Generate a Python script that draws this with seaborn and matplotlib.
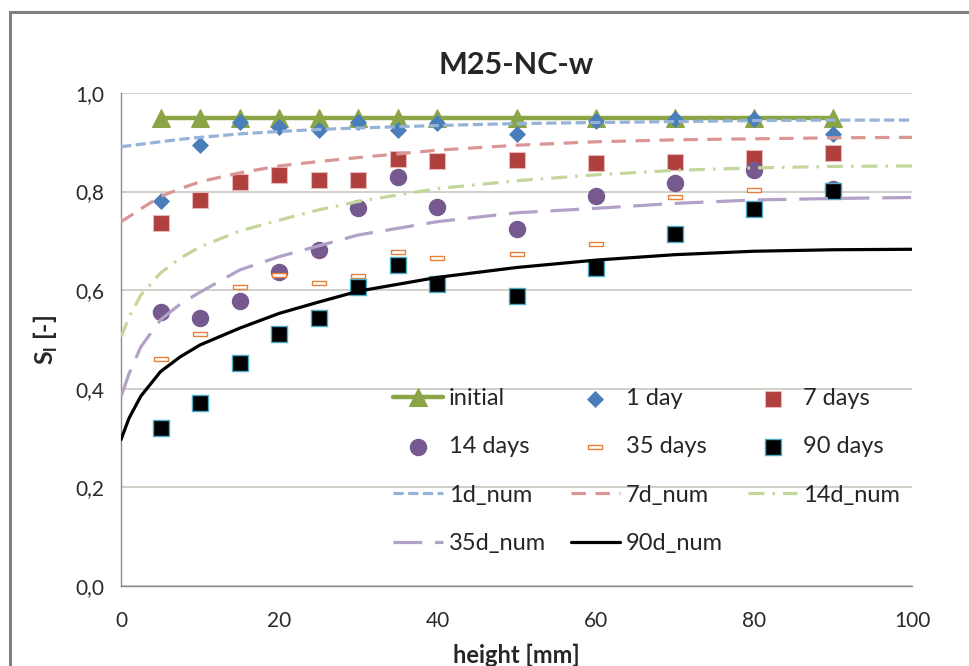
import numpy as np
import pandas as pd
import matplotlib
matplotlib.use("Agg")
import matplotlib.pyplot as plt
from matplotlib.patches import Rectangle
import seaborn as sns

# measured points
height = [5, 10, 15, 20, 25, 30, 35, 40, 50, 60, 70, 80, 90]
initial = [0.95] * 13
day1 = [0.781, 0.894, 0.942, 0.932, 0.925, 0.942, 0.925, 0.940, 0.917, 0.944, 0.947, 0.947, 0.916]
day7 = [0.736, 0.783, 0.819, 0.833, 0.824, 0.824, 0.866, 0.862, 0.864, 0.857, 0.860, 0.868, 0.878]
day14 = [0.556, 0.543, 0.579, 0.636, 0.682, 0.766, 0.830, 0.769, 0.724, 0.792, 0.817, 0.844, 0.805]
day35 = [0.461, 0.511, 0.607, 0.631, 0.615, 0.629, 0.678, 0.665, 0.674, 0.694, 0.789, 0.803, 0.800]
day90 = [0.321, 0.371, 0.452, 0.511, 0.543, 0.607, 0.651, 0.612, 0.589, 0.644, 0.713, 0.764, 0.801]

# numerical curves
x_num = [0, 1, 2.5, 5, 7.5, 10, 15, 20, 25, 30, 40, 50, 60, 70, 80, 90, 100]
num1 = [0.891, 0.893, 0.896, 0.901, 0.906, 0.910, 0.917, 0.922, 0.926, 0.929, 0.934, 0.938, 0.940, 0.942, 0.944, 0.945, 0.945]
num7 = [0.739, 0.749, 0.765, 0.790, 0.806, 0.820, 0.838, 0.852, 0.861, 0.869, 0.884, 0.894, 0.901, 0.905, 0.907, 0.909, 0.910]
num14 = [0.505, 0.545, 0.590, 0.635, 0.665, 0.688, 0.720, 0.742, 0.763, 0.780, 0.806, 0.822, 0.834, 0.843, 0.848, 0.851, 0.852]
num35 = [0.384, 0.430, 0.485, 0.540, 0.572, 0.596, 0.641, 0.668, 0.690, 0.712, 0.739, 0.757, 0.766, 0.776, 0.783, 0.786, 0.788]
num90 = [0.297, 0.340, 0.385, 0.435, 0.465, 0.489, 0.523, 0.553, 0.576, 0.598, 0.626, 0.646, 0.661, 0.672, 0.679, 0.682, 0.683]

yticks = [0.0, 0.2, 0.4, 0.6, 0.8, 1.0]
ytick_labels = ["0,0", "0,2", "0,4", "0,6", "0,8", "1,0"]
xticks = [0, 20, 40, 60, 80, 100]

sns.set_style("white")
plt.rcParams['font.family'] = ['Lato', 'DejaVu Sans']
plt.rcParams['mathtext.fontset'] = 'custom'
plt.rcParams['mathtext.rm'] = 'Lato'
plt.rcParams['mathtext.bf'] = 'Lato:bold'

fig = plt.figure(figsize=(9.69, 6.66), dpi=100)
ax = fig.add_axes([0.1249, 0.1201, 0.8163, 0.7403])

# outer chart border
fig.patches.append(Rectangle((10 / 969, -0.1), 1.2, 1 - 12 / 666 + 0.1, transform=fig.transFigure,
                             fill=False, edgecolor='#808080', linewidth=2.2))

meas = pd.DataFrame({'height': height, 'initial': initial, '1 day': day1, '7 days': day7,
                     '14 days': day14, '35 days': day35, '90 days': day90})
num = pd.DataFrame({'height': x_num, '1d_num': num1, '7d_num': num7, '14d_num': num14,
                    '35d_num': num35, '90d_num': num90})

sns.lineplot(data=meas, x='height', y='initial', color='#8BA446', linewidth=3.2, marker='^',
             markersize=12.5, markeredgecolor='#8BA446', label='initial', ax=ax, zorder=3)
sns.scatterplot(data=meas, x='height', y='1 day', marker='D', s=64, color='#4A7EBB',
                edgecolor='#4A7EBB', label='1 day', ax=ax, zorder=4)
sns.scatterplot(data=meas, x='height', y='7 days', marker='s', s=130, color='#B0403E',
                edgecolor='#E6B9B8', linewidth=0.8, label='7 days', ax=ax, zorder=4)
sns.scatterplot(data=meas, x='height', y='14 days', marker='o', s=135, color='#76598F',
                edgecolor='#76598F', label='14 days', ax=ax, zorder=4)
rect = [(-1, -0.32), (1, -0.32), (1, 0.32), (-1, 0.32), (-1, -0.32)]
sns.scatterplot(data=meas, x='height', y='35 days', marker=rect, s=110, color='white',
                edgecolor='#E8803A', linewidth=1.0, label='35 days', ax=ax, zorder=4)
sns.scatterplot(data=meas, x='height', y='90 days', marker='s', s=130, color='black',
                edgecolor='#4BACC6', linewidth=1.0, label='90 days', ax=ax, zorder=4)

sns.lineplot(data=num, x='height', y='1d_num', color='#95B3D7', linewidth=2.3,
             linestyle=(0, (3.2, 1.4)), label='1d_num', ax=ax, zorder=5)
sns.lineplot(data=num, x='height', y='7d_num', color='#D99694', linewidth=2.3,
             linestyle=(0, (4.5, 3.0)), label='7d_num', ax=ax, zorder=5)
sns.lineplot(data=num, x='height', y='14d_num', color='#C3D69B', linewidth=2.3,
             linestyle=(0, (5, 2.5, 0.8, 2.5)), label='14d_num', ax=ax, zorder=5)
sns.lineplot(data=num, x='height', y='35d_num', color='#B3A2C7', linewidth=2.3,
             linestyle=(0, (9, 4)), label='35d_num', ax=ax, zorder=5)
sns.lineplot(data=num, x='height', y='90d_num', color='black', linewidth=2.3,
             label='90d_num', ax=ax, zorder=5)

ax.set_xlim(0, 100)
ax.set_ylim(0, 1.0)
ax.set_xticks(xticks)
ax.set_yticks(yticks)
ax.set_yticklabels(ytick_labels)
ax.grid(axis='y', color='#C8C8C0', linewidth=1.2)
ax.grid(axis='x', visible=False)
for s in ['top', 'right']:
    ax.spines[s].set_visible(False)
for s in ['left', 'bottom']:
    ax.spines[s].set_color('#8C8C8C')
    ax.spines[s].set_linewidth(1.0)
ax.tick_params(axis='both', direction='out', length=6, color='#8C8C8C', width=1.0,
               labelsize=15, labelcolor='#2a2a2a', pad=6)
ax.tick_params(axis='x', pad=12)

ax.set_title('M25-NC-w', fontsize=22, fontweight='bold', pad=14)
ax.set_xlabel('height [mm]', fontsize=17, fontweight='bold', labelpad=9)
ax.set_ylabel(r'S$_\mathbf{l}$ [-]', fontsize=18, fontweight='bold', labelpad=11)

handles, labels = ax.get_legend_handles_labels()
order = ['initial', '14 days', '1d_num', '35d_num', '1 day', '35 days', '7d_num', '90d_num',
         '7 days', '90 days', '14d_num']
hmap = dict(zip(labels, handles))
ax.legend([hmap[k] for k in order], order, ncol=3, frameon=False, fontsize=17,
          loc='upper left', bbox_to_anchor=(0.344, 0.402), borderpad=0, borderaxespad=0,
          handlelength=2.1, handletextpad=0.25, columnspacing=1.05, labelspacing=1.16,
          scatterpoints=1)

fig.savefig('out.png', dpi=100)
